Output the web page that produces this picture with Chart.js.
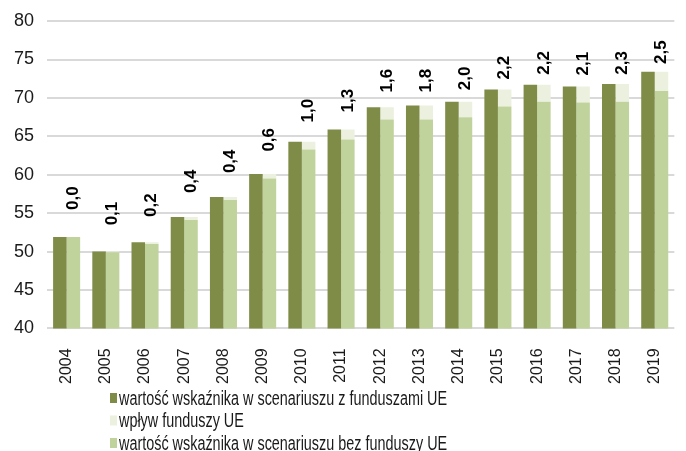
<!DOCTYPE html>
<html>
<head>
<meta charset="utf-8">
<script src="https://cdn.jsdelivr.net/npm/chart.js@4"></script>
<style>
  html, body { margin: 0; padding: 0; background: #fff; }
  #c { display: block; }
</style>
</head>
<body>
<canvas id="c" width="686" height="451"></canvas>
<script>
const years = ['2004', '2005', '2006', '2007', '2008', '2009', '2010', '2011',
  '2012', '2013', '2014', '2015', '2016', '2017', '2018', '2019'];
const withFunds = [51.9, 50.0, 51.2, 54.5, 57.1, 60.1, 64.3, 65.9, 68.8, 69.0, 69.5, 71.1, 71.7, 71.5, 71.8, 73.4];
const withoutFunds = [51.9, 49.9, 51.0, 54.1, 56.7, 59.5, 63.3, 64.6, 67.2, 67.2, 67.5, 68.9, 69.5, 69.4, 69.5, 70.9];
const impact = [0.0, 0.1, 0.2, 0.4, 0.4, 0.6, 1.0, 1.3, 1.6, 1.8, 2.0, 2.2, 2.2, 2.1, 2.3, 2.5];
const yTicks = [40, 45, 50, 55, 60, 65, 70, 75, 80];

const seriesNames = [
  'wartość wskaźnika w scenariuszu z funduszami UE',
  'wartość wskaźnika w scenariuszu bez funduszy UE',
  'wpływ funduszy UE'
];

// labels with impact value, drawn above the "without funds" bar
const impactLabels = {
  id: 'impactLabels',
  afterDatasetsDraw(chart) {
    const ctx = chart.ctx;
    const meta = chart.getDatasetMeta(1);
    ctx.save();
    ctx.font = 'bold 17px "Liberation Sans", Arial, sans-serif';
    ctx.fillStyle = '#000';
    ctx.textAlign = 'left';
    ctx.textBaseline = 'middle';
    meta.data.forEach((bar, i) => {
      ctx.save();
      ctx.translate(bar.x, bar.y - 27);
      ctx.rotate(-Math.PI / 2);
      ctx.fillText(impact[i].toFixed(1).replace('.', ','), 0, 0);
      ctx.restore();
    });
    ctx.restore();
  }
};

// vertical legend under the axis
const stackedLegend = {
  id: 'stackedLegend',
  afterDraw(chart) {
    const ctx = chart.ctx;
    const ds = chart.data.datasets;
    const order = [0, 2, 1];
    ctx.save();
    ctx.textBaseline = 'middle';
    ctx.textAlign = 'left';
    order.forEach((k, row) => {
      const y = 398 + row * 22.5;
      ctx.fillStyle = ds[k].backgroundColor;
      ctx.fillRect(110, y - 5, 7, 10);
      ctx.save();
      ctx.translate(119, y);
      ctx.scale(0.72, 1);
      ctx.font = '20px "Liberation Sans", Arial, sans-serif';
      ctx.fillStyle = '#1a1a1a';
      ctx.fillText(ds[k].label, 0, 1);
      ctx.restore();
    });
    ctx.restore();
  }
};

new Chart(document.getElementById('c'), {
  type: 'bar',
  data: {
    labels: years,
    datasets: [
      { label: seriesNames[0], data: withFunds, stack: 'a', backgroundColor: '#7F8C48' },
      { label: seriesNames[1], data: withoutFunds, stack: 'b', backgroundColor: '#C1D39C' },
      { label: seriesNames[2], data: impact, stack: 'b', backgroundColor: '#EBF1DE' }
    ]
  },
  options: {
    responsive: false,
    devicePixelRatio: 1,
    animation: false,
    categoryPercentage: 0.69,
    barPercentage: 1.0,
    layout: { padding: { left: 1, right: 2, top: 18, bottom: 55 } },
    plugins: {
      legend: { display: false },
      tooltip: { enabled: false }
    },
    scales: {
      x: {
        stacked: true,
        grid: { display: false },
        border: { display: false },
        ticks: {
          color: '#1a1a1a',
          font: { family: '"Liberation Sans", Arial, sans-serif', size: 16 },
          minRotation: 90,
          maxRotation: 90,
          padding: 12
        }
      },
      y: {
        stacked: true,
        min: 40,
        max: 80,
        afterBuildTicks(axis) {
          axis.ticks = yTicks.map(v => ({ value: v }));
        },
        grid: { color: '#D9D9D9', lineWidth: 2, drawTicks: false },
        border: { display: false },
        ticks: {
          color: '#1a1a1a',
          font: { family: '"Liberation Sans", Arial, sans-serif', size: 18, lineHeight: 0.9 },
          padding: 13
        }
      }
    }
  },
  plugins: [impactLabels, stackedLegend]
});
</script>
</body>
</html>
